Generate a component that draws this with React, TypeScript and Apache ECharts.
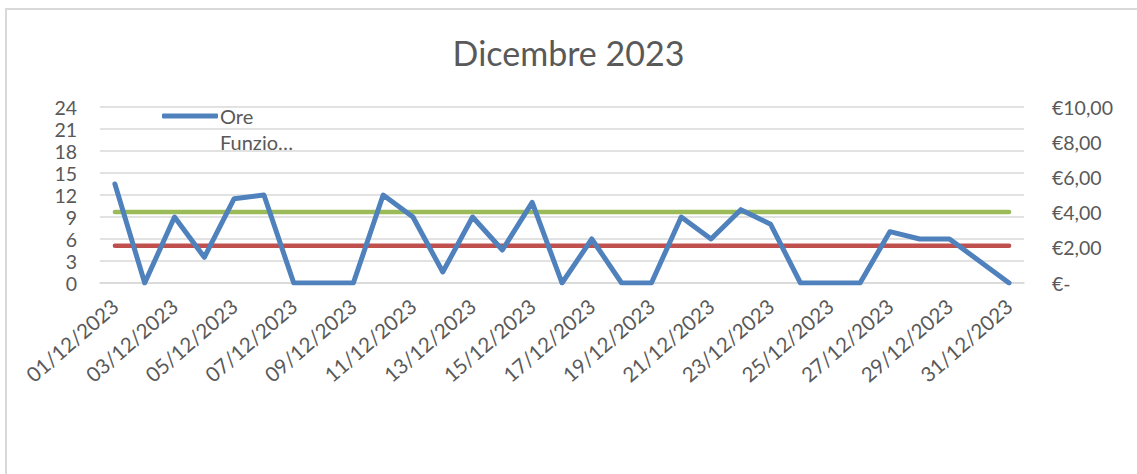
import React, { useEffect, useRef } from "react";
import * as echarts from "echarts";

const days = [
  "01/12/2023", "02/12/2023", "03/12/2023", "04/12/2023", "05/12/2023", "06/12/2023",
  "07/12/2023", "08/12/2023", "09/12/2023", "10/12/2023", "11/12/2023", "12/12/2023",
  "13/12/2023", "14/12/2023", "15/12/2023", "16/12/2023", "17/12/2023", "18/12/2023",
  "19/12/2023", "20/12/2023", "21/12/2023", "22/12/2023", "23/12/2023", "24/12/2023",
  "25/12/2023", "26/12/2023", "27/12/2023", "28/12/2023", "29/12/2023", "30/12/2023",
  "31/12/2023",
];

const oreFunzionamento = [
  13.5, 0, 9, 3.5, 11.5, 12, 0, 0, 0, 12, 9, 1.5, 9, 4.5, 11, 0, 6, 0, 0, 9, 6, 10, 8, 0, 0, 0, 7, 6, 6, 3, 0,
];

const prezzoAlto = [
  4.04, 4.04, 4.04, 4.04, 4.04, 4.04, 4.04, 4.04, 4.04, 4.04, 4.04, 4.04, 4.04, 4.04, 4.04, 4.04,
  4.04, 4.04, 4.04, 4.04, 4.04, 4.04, 4.04, 4.04, 4.04, 4.04, 4.04, 4.04, 4.04, 4.04, 4.04,
];

const prezzoBasso = [
  2.12, 2.12, 2.12, 2.12, 2.12, 2.12, 2.12, 2.12, 2.12, 2.12, 2.12, 2.12, 2.12, 2.12, 2.12, 2.12,
  2.12, 2.12, 2.12, 2.12, 2.12, 2.12, 2.12, 2.12, 2.12, 2.12, 2.12, 2.12, 2.12, 2.12, 2.12,
];

const FONT = "Lato";
const TXT = "#595959";
const GRID = "#d9d9d9";

export default function App() {
  const ref = useRef<HTMLDivElement>(null);
  useEffect(() => {
    if (!ref.current) return;
    const chart = echarts.init(ref.current, undefined, { renderer: "svg" });
    chart.setOption({
      animation: false,
      backgroundColor: "#ffffff",
      textStyle: { fontFamily: FONT },
      title: {
        text: "Dicembre 2023",
        left: "center",
        top: 35,
        padding: 0,
        textStyle: { fontFamily: FONT, fontSize: 34, fontWeight: "normal", color: TXT },
      },
      legend: {
        data: ["Ore Funzionamento"],
        left: 162,
        top: 106,
        padding: 0,
        itemWidth: 56,
        itemHeight: 5,
        itemGap: 2,
        icon: "roundRect",
        formatter: () => "Ore",
        textStyle: { fontFamily: FONT, fontSize: 20, color: TXT, padding: [0, 0, 0, -3] },
      },
      graphic: [
        {
          type: "rect",
          shape: { x: 6, y: 9, width: 1300, height: 600 },
          style: { fill: "none", stroke: GRID, lineWidth: 2 },
          silent: true,
        },
        {
          type: "text",
          x: 220,
          y: 142,
          style: {
            text: "Funzio…",
            fontFamily: FONT,
            fontSize: 20,
            fill: TXT,
            verticalAlign: "middle",
            align: "left",
          },
        },
      ],
      grid: { left: 100, right: 113, top: 107, bottom: 191, containLabel: false },
      xAxis: {
        type: "category",
        data: days,
        boundaryGap: true,
        axisLine: { lineStyle: { color: GRID, width: 1.5 } },
        axisTick: { interval: 1, length: 6, lineStyle: { color: GRID, width: 1.5 } },
        axisLabel: { interval: 1, rotate: 41, fontSize: 20.5, color: TXT, margin: 20, fontFamily: FONT },
      },
      yAxis: [
        {
          type: "value",
          min: 0,
          max: 24,
          interval: 3,
          position: "left",
          axisLine: { show: false },
          axisTick: { show: false },
          splitLine: { lineStyle: { color: GRID, width: 1.5 } },
          axisLabel: { fontSize: 19.5, color: TXT, margin: 23, fontFamily: FONT },
        },
        {
          type: "value",
          min: 0,
          max: 10,
          interval: 2,
          position: "right",
          axisLine: { show: false },
          axisTick: { show: false },
          splitLine: { show: false },
          axisLabel: {
            fontSize: 19.5,
            color: TXT,
            margin: 28,
            fontFamily: FONT,
            formatter: (v: number) => (v === 0 ? "€-" : "€" + v.toFixed(2).replace(".", ",")),
          },
        },
      ],
      series: [
        {
          name: "Ore Funzionamento",
          type: "line",
          yAxisIndex: 0,
          data: oreFunzionamento,
          symbol: "none",
          color: "#4f81bd",
          lineStyle: { width: 5, color: "#4f81bd", cap: "round", join: "round" },
          z: 3,
        },
        {
          name: "Prezzo Alto",
          type: "line",
          yAxisIndex: 1,
          data: prezzoAlto,
          symbol: "none",
          color: "#9bbb59",
          lineStyle: { width: 4.5, color: "#9bbb59", cap: "round" },
          z: 2,
        },
        {
          name: "Prezzo Basso",
          type: "line",
          yAxisIndex: 1,
          data: prezzoBasso,
          symbol: "none",
          color: "#c0504d",
          lineStyle: { width: 4.5, color: "#c0504d", cap: "round" },
          z: 2,
        },
      ],
    });
    return () => chart.dispose();
  }, []);
  return (
    <div
      ref={ref}
      style={{ position: "absolute", left: 0, top: 0, width: 1137, height: 474 }}
    />
  );
}
